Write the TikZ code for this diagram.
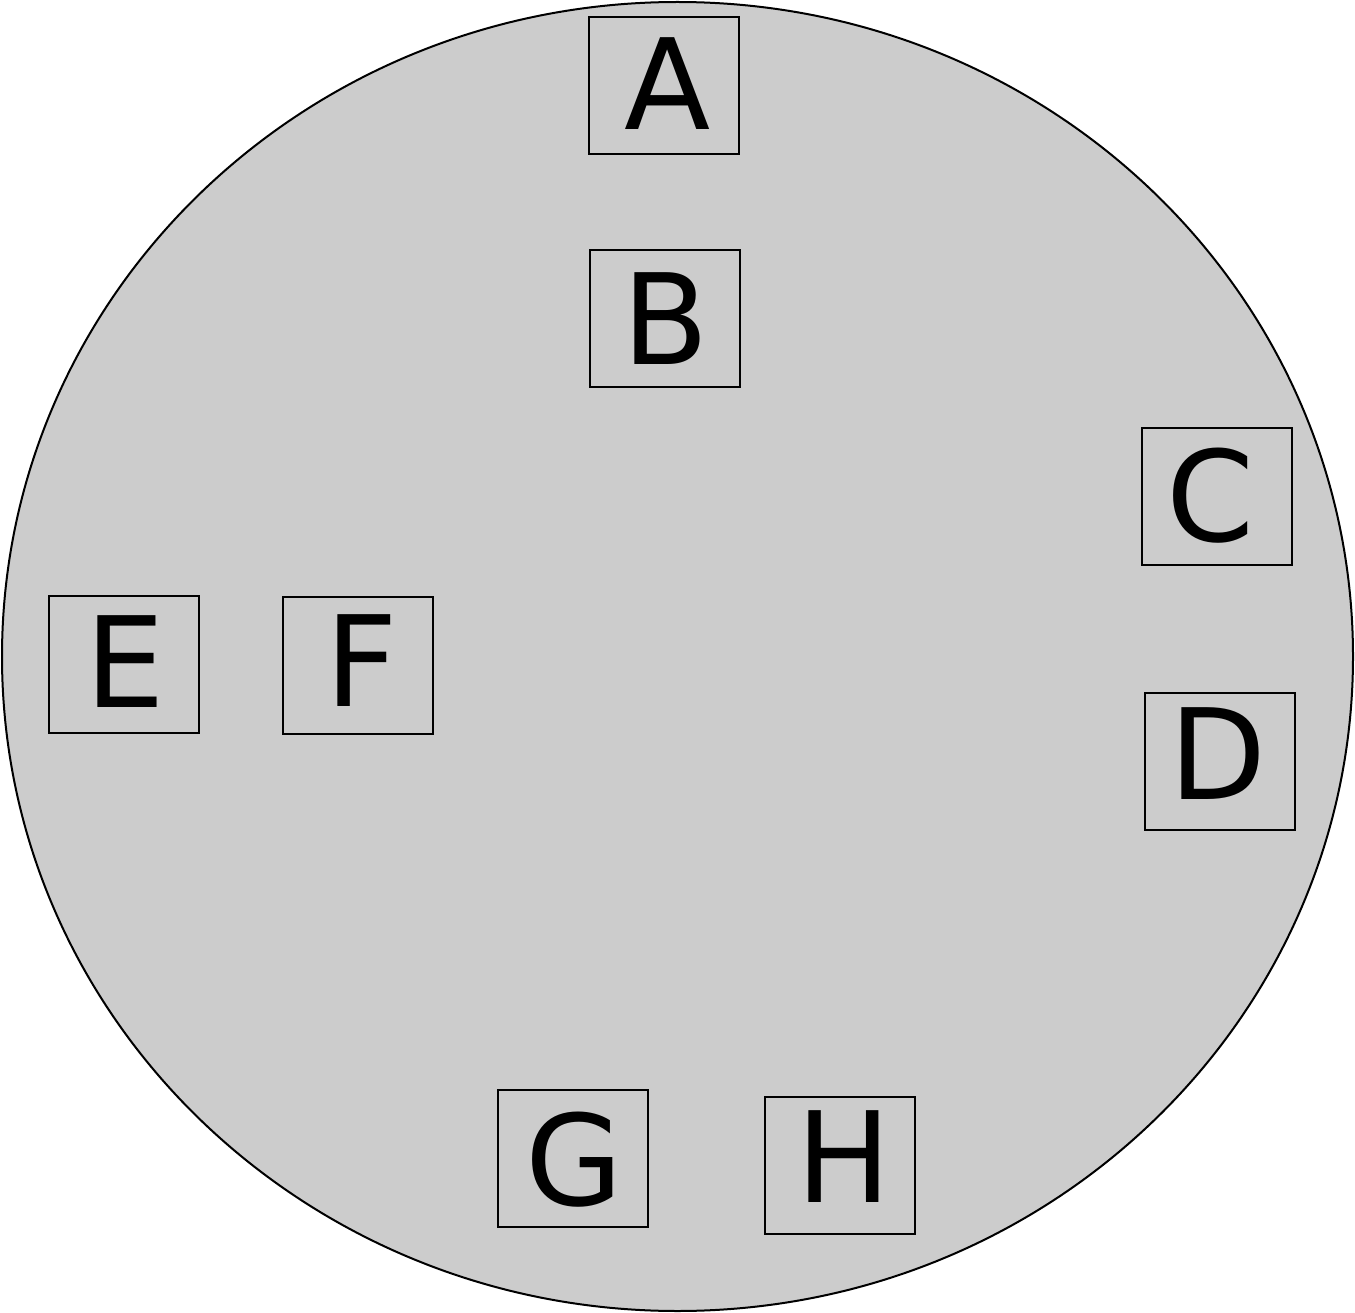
\documentclass[tikz,border=0pt]{standalone}
\usepackage{fontspec}
\setmainfont{DejaVu Sans}
\begin{document}
\begin{tikzpicture}[x=1pt,y=-1pt,
  lbox/.style={draw=black,line width=2pt,minimum width=150pt,minimum height=137pt,inner sep=0pt},
  ltext/.style={inner sep=0pt,font=\fontsize{126}{126}\selectfont,text height=92pt,text depth=0pt}]
\useasboundingbox (0,0) rectangle (1355,1313);
\draw[fill={rgb,255:red,204;green,204;blue,204},line width=2pt] (677.5,656.5) ellipse [x radius=675.5pt,y radius=654.5pt];
\node[lbox] (A) at (664,86) {};
\node[lbox] (B) at (665,318.5) {};
\node[lbox] (C) at (1216.5,496.5) {};
\node[lbox] (D) at (1220,761.5) {};
\node[lbox] (E) at (123.5,664) {};
\node[lbox] (F) at (358,665) {};
\node[lbox] (G) at (573,1158.5) {};
\node[lbox] (H) at (840,1165.5) {};
\node[ltext] (At) at ([shift={(3.5,-2)}]A.center) {A};
\node[ltext] (Bt) at ([shift={(0.8,0.5)}]B.center) {B};
\node[ltext] (Ct) at ([shift={(-6,-1)}]C.center) {C};
\node[ltext] (Dt) at ([shift={(-2.3,-8)}]D.center) {D};
\node[ltext] (Et) at ([shift={(2,-3)}]E.center) {E};
\node[ltext] (Ft) at ([shift={(3.7,-5)}]F.center) {F};
\node[ltext] (Gt) at ([shift={(1.3,1)}]G.center) {G};
\node[ltext] (Ht) at ([shift={(3.5,-9)}]H.center) {H};
\end{tikzpicture}
\end{document}
